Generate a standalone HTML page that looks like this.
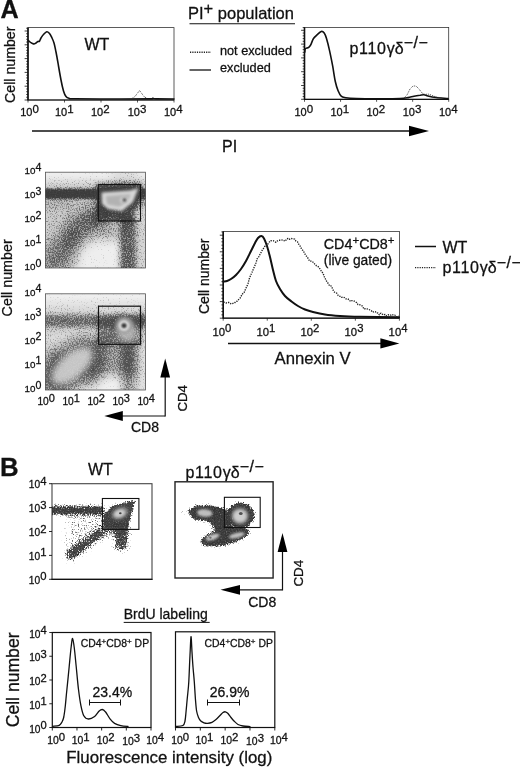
<!DOCTYPE html>
<html><head><meta charset="utf-8"><title>Figure</title>
<style>
html,body{margin:0;padding:0;background:#fff;}
body{width:520px;height:769px;overflow:hidden;}
svg{display:block;font-family:"Liberation Sans", sans-serif;fill:#111;}
text{stroke:#111;stroke-width:0.28px;}
</style></head><body>
<svg width="520" height="769" viewBox="0 0 520 769">
<rect x="0" y="0" width="520" height="769" fill="#fff" stroke="none"/>
<text x="0.4" y="17.9" font-size="25.2" font-weight="bold" text-anchor="start" >A</text>
<rect x="28" y="27.6" width="146" height="72.4" fill="none" stroke="#333" stroke-width="0.8"/>
<line x1="28" y1="27.6" x2="28" y2="100" stroke="#111" stroke-width="1.6" />
<line x1="27.5" y1="100" x2="174" y2="100" stroke="#111" stroke-width="1.2" />
<line x1="24.6" y1="100.0" x2="28" y2="100.0" stroke="#111" stroke-width="0.8" />
<line x1="26.2" y1="97.24" x2="28" y2="97.24" stroke="#111" stroke-width="0.8" />
<line x1="26.2" y1="94.48" x2="28" y2="94.48" stroke="#111" stroke-width="0.8" />
<line x1="26.2" y1="91.72" x2="28" y2="91.72" stroke="#111" stroke-width="0.8" />
<line x1="26.2" y1="88.96" x2="28" y2="88.96" stroke="#111" stroke-width="0.8" />
<line x1="24.6" y1="86.2" x2="28" y2="86.2" stroke="#111" stroke-width="0.8" />
<line x1="26.2" y1="83.44" x2="28" y2="83.44" stroke="#111" stroke-width="0.8" />
<line x1="26.2" y1="80.68" x2="28" y2="80.68" stroke="#111" stroke-width="0.8" />
<line x1="26.2" y1="77.92" x2="28" y2="77.92" stroke="#111" stroke-width="0.8" />
<line x1="26.2" y1="75.16" x2="28" y2="75.16" stroke="#111" stroke-width="0.8" />
<line x1="24.6" y1="72.4" x2="28" y2="72.4" stroke="#111" stroke-width="0.8" />
<line x1="26.2" y1="69.64" x2="28" y2="69.64" stroke="#111" stroke-width="0.8" />
<line x1="26.2" y1="66.88" x2="28" y2="66.88" stroke="#111" stroke-width="0.8" />
<line x1="26.2" y1="64.12" x2="28" y2="64.12" stroke="#111" stroke-width="0.8" />
<line x1="26.2" y1="61.36" x2="28" y2="61.36" stroke="#111" stroke-width="0.8" />
<line x1="24.6" y1="58.6" x2="28" y2="58.6" stroke="#111" stroke-width="0.8" />
<line x1="26.2" y1="55.839999999999996" x2="28" y2="55.839999999999996" stroke="#111" stroke-width="0.8" />
<line x1="26.2" y1="53.08" x2="28" y2="53.08" stroke="#111" stroke-width="0.8" />
<line x1="26.2" y1="50.32" x2="28" y2="50.32" stroke="#111" stroke-width="0.8" />
<line x1="26.2" y1="47.56" x2="28" y2="47.56" stroke="#111" stroke-width="0.8" />
<line x1="24.6" y1="44.8" x2="28" y2="44.8" stroke="#111" stroke-width="0.8" />
<line x1="26.2" y1="42.04" x2="28" y2="42.04" stroke="#111" stroke-width="0.8" />
<line x1="26.2" y1="39.279999999999994" x2="28" y2="39.279999999999994" stroke="#111" stroke-width="0.8" />
<line x1="26.2" y1="36.519999999999996" x2="28" y2="36.519999999999996" stroke="#111" stroke-width="0.8" />
<line x1="26.2" y1="33.75999999999999" x2="28" y2="33.75999999999999" stroke="#111" stroke-width="0.8" />
<line x1="24.6" y1="31.0" x2="28" y2="31.0" stroke="#111" stroke-width="0.8" />
<line x1="26.2" y1="28.239999999999995" x2="28" y2="28.239999999999995" stroke="#111" stroke-width="0.8" />
<line x1="28.0" y1="100" x2="28.0" y2="102.5" stroke="#111" stroke-width="0.7" />
<line x1="64.5" y1="100" x2="64.5" y2="102.5" stroke="#111" stroke-width="0.7" />
<line x1="101.0" y1="100" x2="101.0" y2="102.5" stroke="#111" stroke-width="0.7" />
<line x1="137.5" y1="100" x2="137.5" y2="102.5" stroke="#111" stroke-width="0.7" />
<line x1="174.0" y1="100" x2="174.0" y2="102.5" stroke="#111" stroke-width="0.7" />
<text transform="translate(15.3 103) rotate(-90)" font-size="14.2">Cell number</text>
<text x="84.5" y="50" font-size="16" font-weight="normal" text-anchor="start" >WT</text>
<text x="20.2" y="116.4" font-size="11">10<tspan dy="-3.5" font-size="11.5">0</tspan></text>
<text x="55" y="116.4" font-size="11">10<tspan dy="-3.5" font-size="11.5">1</tspan></text>
<text x="91" y="116.4" font-size="11">10<tspan dy="-3.5" font-size="11.5">2</tspan></text>
<text x="127.7" y="116.4" font-size="11">10<tspan dy="-3.5" font-size="11.5">3</tspan></text>
<text x="164" y="116.4" font-size="11">10<tspan dy="-3.5" font-size="11.5">4</tspan></text>
<path d="M28.3 40.5 C28.6 40.8 29.4 41.5 30.0 42.0 C30.6 42.5 31.3 42.9 32.0 43.2 C32.7 43.5 33.3 44.0 34.0 44.0 C34.7 44.0 35.3 43.4 36.0 43.0 C36.7 42.6 37.4 41.8 38.0 41.5 C38.6 41.2 39.0 41.8 39.5 41.2 C40.0 40.6 40.3 39.1 41.0 38.0 C41.7 36.9 42.5 35.5 43.5 34.5 C44.5 33.5 45.8 31.9 46.8 31.7 C47.8 31.5 48.6 32.5 49.5 33.5 C50.4 34.5 51.2 36.4 52.0 38.0 C52.8 39.6 53.3 40.7 54.0 43.0 C54.7 45.3 55.2 48.2 56.0 52.0 C56.8 55.8 57.7 61.3 58.5 66.0 C59.3 70.7 60.2 75.8 61.0 80.0 C61.8 84.2 62.7 88.2 63.5 91.0 C64.3 93.8 65.1 95.3 66.0 96.5 C66.9 97.7 67.5 97.9 69.0 98.3 C70.5 98.7 66.5 98.7 75.0 98.8 C83.5 98.9 107.5 99.0 120.0 99.0 C132.5 99.0 144.5 99.0 150.0 98.9 C155.5 98.8 152.0 98.2 153.0 98.2 C154.0 98.2 152.5 98.8 156.0 98.9 C159.5 99.0 171.0 99.0 174.0 99.0" fill="none" stroke="#111" stroke-width="1.6" stroke-linejoin="round" stroke-linecap="round" />
<path d="M132.0 98.5 L135.0 96.5 L138.0 92.5 L139.5 90.5 L141.0 92.5 L144.0 96.5 L147.0 98.5" fill="none" stroke="#333" stroke-width="0.9" stroke-linejoin="round" stroke-dasharray="1 1"/>
<text x="188" y="19" font-size="16.5">PI<tspan dy="-5">+</tspan><tspan dy="5"> population</tspan></text>
<line x1="189.5" y1="23.7" x2="295" y2="23.7" stroke="#111" stroke-width="1.1" />
<line x1="190" y1="52.3" x2="211" y2="52.3" stroke="#222" stroke-width="1.4" stroke-dasharray="1.2 1.1"/>
<text x="220" y="54.7" font-size="12.7" font-weight="normal" text-anchor="start" >not excluded</text>
<line x1="189.5" y1="70" x2="211" y2="70" stroke="#111" stroke-width="1.3" />
<text x="220" y="72" font-size="12.7" font-weight="normal" text-anchor="start" >excluded</text>
<rect x="304.5" y="27.5" width="144.2" height="71.8" fill="none" stroke="#333" stroke-width="0.8"/>
<line x1="304.5" y1="27.5" x2="304.5" y2="99.3" stroke="#111" stroke-width="1.6" />
<line x1="304.0" y1="99.3" x2="448.7" y2="99.3" stroke="#111" stroke-width="1.2" />
<line x1="301.1" y1="99.3" x2="304.5" y2="99.3" stroke="#111" stroke-width="0.8" />
<line x1="302.7" y1="96.53999999999999" x2="304.5" y2="96.53999999999999" stroke="#111" stroke-width="0.8" />
<line x1="302.7" y1="93.78" x2="304.5" y2="93.78" stroke="#111" stroke-width="0.8" />
<line x1="302.7" y1="91.02" x2="304.5" y2="91.02" stroke="#111" stroke-width="0.8" />
<line x1="302.7" y1="88.25999999999999" x2="304.5" y2="88.25999999999999" stroke="#111" stroke-width="0.8" />
<line x1="301.1" y1="85.5" x2="304.5" y2="85.5" stroke="#111" stroke-width="0.8" />
<line x1="302.7" y1="82.74" x2="304.5" y2="82.74" stroke="#111" stroke-width="0.8" />
<line x1="302.7" y1="79.97999999999999" x2="304.5" y2="79.97999999999999" stroke="#111" stroke-width="0.8" />
<line x1="302.7" y1="77.22" x2="304.5" y2="77.22" stroke="#111" stroke-width="0.8" />
<line x1="302.7" y1="74.46" x2="304.5" y2="74.46" stroke="#111" stroke-width="0.8" />
<line x1="301.1" y1="71.69999999999999" x2="304.5" y2="71.69999999999999" stroke="#111" stroke-width="0.8" />
<line x1="302.7" y1="68.94" x2="304.5" y2="68.94" stroke="#111" stroke-width="0.8" />
<line x1="302.7" y1="66.17999999999999" x2="304.5" y2="66.17999999999999" stroke="#111" stroke-width="0.8" />
<line x1="302.7" y1="63.419999999999995" x2="304.5" y2="63.419999999999995" stroke="#111" stroke-width="0.8" />
<line x1="302.7" y1="60.66" x2="304.5" y2="60.66" stroke="#111" stroke-width="0.8" />
<line x1="301.1" y1="57.9" x2="304.5" y2="57.9" stroke="#111" stroke-width="0.8" />
<line x1="302.7" y1="55.13999999999999" x2="304.5" y2="55.13999999999999" stroke="#111" stroke-width="0.8" />
<line x1="302.7" y1="52.379999999999995" x2="304.5" y2="52.379999999999995" stroke="#111" stroke-width="0.8" />
<line x1="302.7" y1="49.62" x2="304.5" y2="49.62" stroke="#111" stroke-width="0.8" />
<line x1="302.7" y1="46.86" x2="304.5" y2="46.86" stroke="#111" stroke-width="0.8" />
<line x1="301.1" y1="44.099999999999994" x2="304.5" y2="44.099999999999994" stroke="#111" stroke-width="0.8" />
<line x1="302.7" y1="41.339999999999996" x2="304.5" y2="41.339999999999996" stroke="#111" stroke-width="0.8" />
<line x1="302.7" y1="38.57999999999999" x2="304.5" y2="38.57999999999999" stroke="#111" stroke-width="0.8" />
<line x1="302.7" y1="35.81999999999999" x2="304.5" y2="35.81999999999999" stroke="#111" stroke-width="0.8" />
<line x1="302.7" y1="33.05999999999999" x2="304.5" y2="33.05999999999999" stroke="#111" stroke-width="0.8" />
<line x1="301.1" y1="30.299999999999997" x2="304.5" y2="30.299999999999997" stroke="#111" stroke-width="0.8" />
<line x1="302.7" y1="27.539999999999992" x2="304.5" y2="27.539999999999992" stroke="#111" stroke-width="0.8" />
<line x1="304.5" y1="99.3" x2="304.5" y2="101.8" stroke="#111" stroke-width="0.7" />
<line x1="340.55" y1="99.3" x2="340.55" y2="101.8" stroke="#111" stroke-width="0.7" />
<line x1="376.6" y1="99.3" x2="376.6" y2="101.8" stroke="#111" stroke-width="0.7" />
<line x1="412.65" y1="99.3" x2="412.65" y2="101.8" stroke="#111" stroke-width="0.7" />
<line x1="448.7" y1="99.3" x2="448.7" y2="101.8" stroke="#111" stroke-width="0.7" />
<text x="349.5" y="53.5" font-size="16"><tspan letter-spacing="0.7">p110</tspan>γδ<tspan dy="-5.4" font-size="16.0" letter-spacing="0.6">−/−</tspan></text>
<text x="294.5" y="116.4" font-size="11">10<tspan dy="-3.5" font-size="11.5">0</tspan></text>
<text x="330.5" y="116.4" font-size="11">10<tspan dy="-3.5" font-size="11.5">1</tspan></text>
<text x="366.5" y="116.4" font-size="11">10<tspan dy="-3.5" font-size="11.5">2</tspan></text>
<text x="402.7" y="116.4" font-size="11">10<tspan dy="-3.5" font-size="11.5">3</tspan></text>
<text x="439" y="116.4" font-size="11">10<tspan dy="-3.5" font-size="11.5">4</tspan></text>
<path d="M304.8 52.0 C304.9 51.5 304.8 49.5 305.3 48.8 C305.8 48.1 307.2 48.1 308.0 47.7 C308.8 47.3 309.3 46.9 309.8 46.2 C310.3 45.6 310.6 45.1 311.2 43.8 C311.8 42.5 312.5 40.0 313.5 38.5 C314.5 37.0 316.0 35.8 317.3 34.6 C318.6 33.4 320.1 31.8 321.2 31.5 C322.3 31.2 323.3 31.8 324.2 33.0 C325.1 34.2 325.6 35.5 326.5 38.5 C327.4 41.5 328.6 46.2 329.6 50.8 C330.6 55.4 331.8 61.1 332.7 66.2 C333.6 71.3 334.4 77.4 335.3 81.5 C336.2 85.6 337.1 88.3 338.1 90.8 C339.1 93.2 339.9 95.0 341.2 96.2 C342.5 97.4 343.2 97.3 345.8 97.7 C348.4 98.1 350.8 98.3 356.5 98.5 C362.2 98.7 372.8 98.7 380.0 98.7 C387.2 98.7 395.3 98.7 400.0 98.5 C404.7 98.3 405.7 98.0 408.0 97.6 C410.3 97.2 412.0 96.6 414.0 96.2 C416.0 95.8 418.3 95.5 420.0 95.3 C421.7 95.0 422.7 94.6 424.0 94.7 C425.3 94.8 426.0 95.5 428.0 96.0 C430.0 96.5 432.7 97.1 436.0 97.5 C439.3 97.9 446.0 98.3 448.0 98.5" fill="none" stroke="#111" stroke-width="1.6" stroke-linejoin="round" stroke-linecap="round" />
<path d="M404.0 98.0 L407.0 95.0 L410.0 89.0 L413.0 86.0 L416.0 86.0 L419.0 89.0 L422.0 93.0 L425.0 94.5 L428.0 94.0 L431.0 95.0 L436.0 97.0 L442.0 98.0" fill="none" stroke="#333" stroke-width="0.9" stroke-linejoin="round" stroke-dasharray="1 1"/>
<line x1="32" y1="131" x2="411" y2="131" stroke="#111" stroke-width="1.5" />
<polygon points="429,131 409,125.7 409,136.3" fill="#000"/>
<text x="222" y="151.5" font-size="16" font-weight="normal" text-anchor="start" >PI</text>
<rect x="223.2" y="231.5" width="176.2" height="86.69999999999999" fill="none" stroke="#333" stroke-width="0.8"/>
<line x1="223.2" y1="231.5" x2="223.2" y2="318.2" stroke="#111" stroke-width="1.6" />
<line x1="222.7" y1="318.2" x2="399.4" y2="318.2" stroke="#111" stroke-width="1.2" />
<line x1="219.79999999999998" y1="318.2" x2="223.2" y2="318.2" stroke="#111" stroke-width="0.8" />
<line x1="221.39999999999998" y1="314.88" x2="223.2" y2="314.88" stroke="#111" stroke-width="0.8" />
<line x1="221.39999999999998" y1="311.56" x2="223.2" y2="311.56" stroke="#111" stroke-width="0.8" />
<line x1="221.39999999999998" y1="308.24" x2="223.2" y2="308.24" stroke="#111" stroke-width="0.8" />
<line x1="221.39999999999998" y1="304.91999999999996" x2="223.2" y2="304.91999999999996" stroke="#111" stroke-width="0.8" />
<line x1="219.79999999999998" y1="301.59999999999997" x2="223.2" y2="301.59999999999997" stroke="#111" stroke-width="0.8" />
<line x1="221.39999999999998" y1="298.28" x2="223.2" y2="298.28" stroke="#111" stroke-width="0.8" />
<line x1="221.39999999999998" y1="294.96" x2="223.2" y2="294.96" stroke="#111" stroke-width="0.8" />
<line x1="221.39999999999998" y1="291.64" x2="223.2" y2="291.64" stroke="#111" stroke-width="0.8" />
<line x1="221.39999999999998" y1="288.32" x2="223.2" y2="288.32" stroke="#111" stroke-width="0.8" />
<line x1="219.79999999999998" y1="285.0" x2="223.2" y2="285.0" stroke="#111" stroke-width="0.8" />
<line x1="221.39999999999998" y1="281.68" x2="223.2" y2="281.68" stroke="#111" stroke-width="0.8" />
<line x1="221.39999999999998" y1="278.36" x2="223.2" y2="278.36" stroke="#111" stroke-width="0.8" />
<line x1="221.39999999999998" y1="275.03999999999996" x2="223.2" y2="275.03999999999996" stroke="#111" stroke-width="0.8" />
<line x1="221.39999999999998" y1="271.71999999999997" x2="223.2" y2="271.71999999999997" stroke="#111" stroke-width="0.8" />
<line x1="219.79999999999998" y1="268.4" x2="223.2" y2="268.4" stroke="#111" stroke-width="0.8" />
<line x1="221.39999999999998" y1="265.08" x2="223.2" y2="265.08" stroke="#111" stroke-width="0.8" />
<line x1="221.39999999999998" y1="261.76" x2="223.2" y2="261.76" stroke="#111" stroke-width="0.8" />
<line x1="221.39999999999998" y1="258.44" x2="223.2" y2="258.44" stroke="#111" stroke-width="0.8" />
<line x1="221.39999999999998" y1="255.11999999999998" x2="223.2" y2="255.11999999999998" stroke="#111" stroke-width="0.8" />
<line x1="219.79999999999998" y1="251.79999999999998" x2="223.2" y2="251.79999999999998" stroke="#111" stroke-width="0.8" />
<line x1="221.39999999999998" y1="248.48" x2="223.2" y2="248.48" stroke="#111" stroke-width="0.8" />
<line x1="221.39999999999998" y1="245.15999999999997" x2="223.2" y2="245.15999999999997" stroke="#111" stroke-width="0.8" />
<line x1="221.39999999999998" y1="241.83999999999997" x2="223.2" y2="241.83999999999997" stroke="#111" stroke-width="0.8" />
<line x1="221.39999999999998" y1="238.51999999999998" x2="223.2" y2="238.51999999999998" stroke="#111" stroke-width="0.8" />
<line x1="219.79999999999998" y1="235.2" x2="223.2" y2="235.2" stroke="#111" stroke-width="0.8" />
<line x1="221.39999999999998" y1="231.88" x2="223.2" y2="231.88" stroke="#111" stroke-width="0.8" />
<line x1="223.2" y1="318.2" x2="223.2" y2="320.7" stroke="#111" stroke-width="0.7" />
<line x1="267.25" y1="318.2" x2="267.25" y2="320.7" stroke="#111" stroke-width="0.7" />
<line x1="311.29999999999995" y1="318.2" x2="311.29999999999995" y2="320.7" stroke="#111" stroke-width="0.7" />
<line x1="355.34999999999997" y1="318.2" x2="355.34999999999997" y2="320.7" stroke="#111" stroke-width="0.7" />
<line x1="399.4" y1="318.2" x2="399.4" y2="320.7" stroke="#111" stroke-width="0.7" />
<text transform="translate(208.8 314) rotate(-90)" font-size="14">Cell number</text>
<text x="212.39999999999998" y="335.6" font-size="11.3">10<tspan dy="-3.5" font-size="11.3">0</tspan></text>
<text x="256.45" y="335.6" font-size="11.3">10<tspan dy="-3.5" font-size="11.3">1</tspan></text>
<text x="300.49999999999994" y="335.6" font-size="11.3">10<tspan dy="-3.5" font-size="11.3">2</tspan></text>
<text x="344.54999999999995" y="335.6" font-size="11.3">10<tspan dy="-3.5" font-size="11.3">3</tspan></text>
<text x="388.59999999999997" y="335.6" font-size="11.3">10<tspan dy="-3.5" font-size="11.3">4</tspan></text>
<path d="M223.5 281.5 C224.1 281.4 225.8 281.4 227.0 281.0 C228.2 280.6 229.5 280.0 231.0 279.0 C232.5 278.0 234.3 276.7 236.0 275.0 C237.7 273.3 239.3 271.3 241.0 269.0 C242.7 266.7 244.3 264.0 246.0 261.0 C247.7 258.0 249.5 254.0 251.0 251.0 C252.5 248.0 253.8 245.2 255.0 243.0 C256.2 240.8 256.9 239.2 258.0 238.0 C259.1 236.8 260.4 235.9 261.4 236.0 C262.4 236.1 263.1 236.8 264.0 238.5 C264.9 240.2 266.0 242.9 267.0 246.0 C268.0 249.1 269.0 253.0 270.0 257.0 C271.0 261.0 272.0 266.0 273.0 270.0 C274.0 274.0 274.8 277.8 276.0 281.0 C277.2 284.2 278.5 286.5 280.0 289.0 C281.5 291.5 283.1 293.9 285.0 296.0 C286.9 298.1 289.3 299.8 291.5 301.5 C293.7 303.2 295.8 304.7 298.0 306.0 C300.2 307.3 302.5 308.5 305.0 309.5 C307.5 310.5 309.7 311.2 313.0 312.0 C316.3 312.8 320.5 313.8 325.0 314.5 C329.5 315.2 334.2 315.6 340.0 316.0 C345.8 316.4 350.2 316.6 360.0 316.8 C369.8 317.0 392.5 317.2 399.0 317.3" fill="none" stroke="#111" stroke-width="2.0" stroke-linejoin="round" stroke-linecap="round" />
<path d="M223.5 302.4 L224.8 302.2 L226.1 303.0 L227.4 302.5 L228.7 302.4 L230.0 303.3 L231.5 304.0 L233.0 303.4 L234.5 303.0 L236.0 301.4 L237.3 301.1 L238.7 299.5 L240.0 298.3 L241.3 295.8 L242.7 293.7 L244.0 292.9 L245.3 289.7 L246.7 286.7 L248.0 283.7 L249.3 278.7 L250.7 275.2 L252.0 272.3 L253.3 269.2 L254.7 266.1 L256.0 262.8 L257.3 258.4 L258.7 256.9 L260.0 254.4 L261.3 252.0 L262.7 249.3 L264.0 247.9 L265.3 245.4 L266.7 245.6 L268.0 243.8 L269.3 242.1 L270.7 240.6 L272.0 240.9 L273.3 240.7 L274.7 241.8 L276.0 242.3 L277.3 241.0 L278.7 240.3 L280.0 240.2 L281.3 240.2 L282.7 239.9 L284.0 240.6 L285.3 241.2 L286.7 239.0 L288.0 238.5 L289.3 239.4 L290.7 238.4 L292.0 238.6 L293.3 238.9 L294.7 239.2 L296.0 241.1 L297.5 241.8 L299.0 244.8 L300.3 246.3 L301.7 249.3 L303.0 250.5 L304.3 252.7 L305.7 255.5 L307.0 256.6 L308.3 258.8 L309.7 261.2 L311.0 261.1 L312.3 261.7 L313.7 262.7 L315.0 264.6 L316.3 265.6 L317.7 266.1 L319.0 267.6 L320.3 269.3 L321.7 271.9 L323.0 273.0 L324.3 276.8 L325.7 279.5 L327.0 282.0 L328.3 283.5 L329.7 286.0 L331.0 285.9 L332.3 288.2 L333.7 291.4 L335.0 292.6 L336.7 293.1 L338.3 295.6 L340.0 296.3 L341.5 297.4 L343.0 297.0 L344.5 297.6 L346.0 298.9 L347.5 298.7 L349.0 299.7 L350.5 301.5 L352.0 300.6 L353.5 300.7 L355.0 301.5 L356.5 302.5 L358.0 304.6 L359.5 304.7 L361.0 305.5 L362.5 306.1 L364.0 309.1 L365.5 308.6 L367.0 308.9 L368.5 309.3 L370.0 310.0 L371.3 310.7 L372.7 312.2 L374.0 311.5 L375.3 311.7 L376.7 313.1 L378.0 312.9 L379.4 314.8 L380.9 313.1 L382.3 314.2 L383.7 315.0 L385.1 314.4 L386.6 315.9 L388.0 315.0 L389.4 314.6 L390.8 315.1 L392.1 314.4 L393.5 315.3 L394.9 315.1 L396.2 316.6 L397.6 316.6 L399.0 316.0" fill="none" stroke="#222" stroke-width="1.35" stroke-linejoin="round" stroke-dasharray="1.3 1.1"/>
<text x="323.8" y="248.6" font-size="14.3">CD4<tspan dy="-4.5" font-size="11.5">+</tspan><tspan dy="4.5">CD8</tspan><tspan dy="-4.5" font-size="11.5">+</tspan></text>
<text x="323.8" y="264.7" font-size="13.8" font-weight="normal" text-anchor="start" >(live gated)</text>
<line x1="415" y1="246.5" x2="436" y2="246.5" stroke="#111" stroke-width="1.5" />
<text x="442.5" y="253" font-size="16" font-weight="normal" text-anchor="start" >WT</text>
<line x1="415" y1="267.6" x2="436" y2="267.6" stroke="#222" stroke-width="1.4" stroke-dasharray="1.2 1.1"/>
<text x="442.5" y="273" font-size="16"><tspan letter-spacing="0.7">p110</tspan>γδ<tspan dy="-5.4" font-size="16.0" letter-spacing="0.6">−/−</tspan></text>
<line x1="228" y1="343.4" x2="382.4" y2="343.4" stroke="#111" stroke-width="1.5" />
<polygon points="399.4,343.4 380.4,338.2 380.4,348.59999999999997" fill="#000"/>
<text x="274.6" y="364.4" font-size="16.7" font-weight="normal" text-anchor="start" >Annexin V</text>
<text transform="translate(12.2 316.4) rotate(-90)" font-size="14.3">Cell number</text>
<rect x="45.5" y="172.2" width="100.0" height="95.80000000000001" fill="none" stroke="#555" stroke-width="0.8"/>
<rect x="45.5" y="293.8" width="100.0" height="96.19999999999999" fill="none" stroke="#555" stroke-width="0.8"/>
<text x="24.6" y="270.0" font-size="9.8">10<tspan dy="-3.5" font-size="10.6">0</tspan></text>
<text x="24.6" y="246.05" font-size="9.8">10<tspan dy="-3.5" font-size="10.6">1</tspan></text>
<text x="24.6" y="222.1" font-size="9.8">10<tspan dy="-3.5" font-size="10.6">2</tspan></text>
<text x="24.6" y="198.14999999999998" font-size="9.8">10<tspan dy="-3.5" font-size="10.6">3</tspan></text>
<text x="24.6" y="174.2" font-size="9.8">10<tspan dy="-3.5" font-size="10.6">4</tspan></text>
<text x="24.6" y="392.0" font-size="9.8">10<tspan dy="-3.5" font-size="10.6">0</tspan></text>
<text x="24.6" y="367.95" font-size="9.8">10<tspan dy="-3.5" font-size="10.6">1</tspan></text>
<text x="24.6" y="343.9" font-size="9.8">10<tspan dy="-3.5" font-size="10.6">2</tspan></text>
<text x="24.6" y="319.85" font-size="9.8">10<tspan dy="-3.5" font-size="10.6">3</tspan></text>
<text x="24.6" y="295.8" font-size="9.8">10<tspan dy="-3.5" font-size="10.6">4</tspan></text>
<text x="37.4" y="405.2" font-size="10.2">10<tspan dy="-3.5" font-size="11">0</tspan></text>
<text x="62.4" y="405.2" font-size="10.2">10<tspan dy="-3.5" font-size="11">1</tspan></text>
<text x="87.4" y="405.2" font-size="10.2">10<tspan dy="-3.5" font-size="11">2</tspan></text>
<text x="112.4" y="405.2" font-size="10.2">10<tspan dy="-3.5" font-size="11">3</tspan></text>
<text x="137.4" y="405.2" font-size="10.2">10<tspan dy="-3.5" font-size="11">4</tspan></text>
<line x1="165.2" y1="416" x2="120.8" y2="416" stroke="#111" stroke-width="1.2" />
<polygon points="104.3,416 122.8,411.1 122.8,420.9" fill="#000"/>
<line x1="165.2" y1="416.6" x2="165.2" y2="375.5" stroke="#111" stroke-width="1.2" />
<polygon points="165.2,358.5 160.29999999999998,377.5 170.1,377.5" fill="#000"/>
<text x="131" y="432" font-size="14" font-weight="normal" text-anchor="start" >CD8</text>
<text transform="translate(186.7 411.6) rotate(-90)" font-size="13.3">CD4</text>
<text x="0" y="476" font-size="25.8" font-weight="bold" text-anchor="start" >B</text>
<text x="88" y="475.4" font-size="16" font-weight="normal" text-anchor="start" >WT</text>
<text x="185.5" y="477.7" font-size="16"><tspan letter-spacing="0.7">p110</tspan>γδ<tspan dy="-5.4" font-size="16.0" letter-spacing="0.6">−/−</tspan></text>
<rect x="52" y="483.7" width="100" height="95.59999999999997" fill="none" stroke="#444" stroke-width="1.1"/>
<line x1="51.5" y1="579.3" x2="152.5" y2="579.3" stroke="#111" stroke-width="1.3" />
<rect x="175" y="481.8" width="98.10000000000002" height="96.19999999999999" fill="none" stroke="#222" stroke-width="1.4"/>
<text x="28.8" y="583.8" font-size="10.2">10<tspan dy="-3.5" font-size="11.3">0</tspan></text>
<line x1="49" y1="579.3" x2="52" y2="579.3" stroke="#111" stroke-width="0.9" />
<text x="28.8" y="559.9" font-size="10.2">10<tspan dy="-3.5" font-size="11.3">1</tspan></text>
<line x1="49" y1="555.4" x2="52" y2="555.4" stroke="#111" stroke-width="0.9" />
<text x="28.8" y="536.0" font-size="10.2">10<tspan dy="-3.5" font-size="11.3">2</tspan></text>
<line x1="49" y1="531.5" x2="52" y2="531.5" stroke="#111" stroke-width="0.9" />
<text x="28.8" y="512.0999999999999" font-size="10.2">10<tspan dy="-3.5" font-size="11.3">3</tspan></text>
<line x1="49" y1="507.59999999999997" x2="52" y2="507.59999999999997" stroke="#111" stroke-width="0.9" />
<text x="28.8" y="488.2" font-size="10.2">10<tspan dy="-3.5" font-size="11.3">4</tspan></text>
<line x1="49" y1="483.7" x2="52" y2="483.7" stroke="#111" stroke-width="0.9" />
<line x1="282.5" y1="590.4" x2="282.5" y2="550" stroke="#111" stroke-width="1.2" />
<polygon points="282.5,533 277.6,552 287.4,552" fill="#000"/>
<line x1="282.5" y1="589.8" x2="238.0" y2="589.8" stroke="#111" stroke-width="1.2" />
<polygon points="220.5,589.8 240.0,584.9 240.0,594.6999999999999" fill="#000"/>
<text x="248.2" y="606.9" font-size="14" font-weight="normal" text-anchor="start" >CD8</text>
<text transform="translate(303.3 586.6) rotate(-90)" font-size="13.4">CD4</text>
<text x="123.7" y="619.3" font-size="14" font-weight="normal" text-anchor="start" >BrdU labeling</text>
<line x1="123.7" y1="622.4" x2="209.7" y2="622.4" stroke="#111" stroke-width="1.0" />
<rect x="52.3" y="632.5" width="98.7" height="95.0" fill="none" stroke="#111" stroke-width="1.2"/>
<rect x="175.5" y="631.8" width="99.30000000000001" height="95.70000000000005" fill="none" stroke="#111" stroke-width="1.2"/>
<text transform="translate(19 727.3) rotate(-90)" font-size="17.6">Cell number</text>
<text x="29.2" y="732.6" font-size="10.2">10<tspan dy="-3.5" font-size="11.2">0</tspan></text>
<line x1="49.3" y1="727.5" x2="52.3" y2="727.5" stroke="#111" stroke-width="0.9" />
<text x="29.2" y="708.85" font-size="10.2">10<tspan dy="-3.5" font-size="11.2">1</tspan></text>
<line x1="49.3" y1="703.75" x2="52.3" y2="703.75" stroke="#111" stroke-width="0.9" />
<text x="29.2" y="685.1" font-size="10.2">10<tspan dy="-3.5" font-size="11.2">2</tspan></text>
<line x1="49.3" y1="680.0" x2="52.3" y2="680.0" stroke="#111" stroke-width="0.9" />
<text x="29.2" y="661.35" font-size="10.2">10<tspan dy="-3.5" font-size="11.2">3</tspan></text>
<line x1="49.3" y1="656.25" x2="52.3" y2="656.25" stroke="#111" stroke-width="0.9" />
<text x="29.2" y="637.6" font-size="10.2">10<tspan dy="-3.5" font-size="11.2">4</tspan></text>
<line x1="49.3" y1="632.5" x2="52.3" y2="632.5" stroke="#111" stroke-width="0.9" />
<text x="47.3" y="744.0" font-size="10.4">10<tspan dy="-3.5" font-size="11.4">0</tspan></text>
<text x="71.8" y="744.0" font-size="10.4">10<tspan dy="-3.5" font-size="11.4">1</tspan></text>
<text x="96.8" y="744.0" font-size="10.4">10<tspan dy="-3.5" font-size="11.4">2</tspan></text>
<text x="122.3" y="745.2" font-size="10.4">10<tspan dy="-3.5" font-size="11.4">3</tspan></text>
<text x="146.2" y="744.0" font-size="10.4">10<tspan dy="-3.5" font-size="11.4">4</tspan></text>
<text x="171.2" y="744.0" font-size="10.4">10<tspan dy="-3.5" font-size="11.4">0</tspan></text>
<text x="195.4" y="744.0" font-size="10.4">10<tspan dy="-3.5" font-size="11.4">1</tspan></text>
<text x="220.4" y="744.0" font-size="10.4">10<tspan dy="-3.5" font-size="11.4">2</tspan></text>
<text x="246.1" y="745.2" font-size="10.4">10<tspan dy="-3.5" font-size="11.4">3</tspan></text>
<text x="270" y="744.0" font-size="10.4">10<tspan dy="-3.5" font-size="11.4">4</tspan></text>
<text x="80.8" y="647.4" font-size="10.4">CD4<tspan dy="-3.6" font-size="8">+</tspan><tspan dy="3.6">CD8</tspan><tspan dy="-3.6" font-size="8">+</tspan><tspan dy="3.6"> DP</tspan></text>
<text x="204.6" y="647.2" font-size="10.4">CD4<tspan dy="-3.6" font-size="8">+</tspan><tspan dy="3.6">CD8</tspan><tspan dy="-3.6" font-size="8">+</tspan><tspan dy="3.6"> DP</tspan></text>
<text x="92.5" y="697" font-size="14" font-weight="normal" text-anchor="start" >23.4%</text>
<text x="209.7" y="697" font-size="14" font-weight="normal" text-anchor="start" >26.9%</text>
<line x1="89.5" y1="702.5" x2="120.5" y2="702.5" stroke="#111" stroke-width="1.0" />
<line x1="89.5" y1="699.5" x2="89.5" y2="705.5" stroke="#111" stroke-width="1.0" />
<line x1="120.5" y1="699.5" x2="120.5" y2="705.5" stroke="#111" stroke-width="1.0" />
<line x1="207.5" y1="702.5" x2="239.5" y2="702.5" stroke="#111" stroke-width="1.0" />
<line x1="207.5" y1="699.5" x2="207.5" y2="705.5" stroke="#111" stroke-width="1.0" />
<line x1="239.5" y1="699.5" x2="239.5" y2="705.5" stroke="#111" stroke-width="1.0" />
<path d="M52.5 726.3 C53.6 726.1 57.6 726.0 59.2 725.3 C60.8 724.6 61.2 723.4 62.0 722.0 C62.8 720.6 63.2 719.7 63.8 717.0 C64.3 714.3 64.8 710.6 65.3 706.0 C65.8 701.4 66.2 696.1 66.9 689.5 C67.6 682.9 68.5 673.7 69.2 666.5 C69.9 659.3 70.6 651.2 71.2 646.5 C71.8 641.8 72.1 638.2 72.6 638.5 C73.1 638.8 73.7 643.3 74.3 648.0 C74.9 652.7 75.5 659.6 76.2 666.5 C76.9 673.4 77.7 683.1 78.5 689.5 C79.3 695.9 79.9 700.6 80.8 705.0 C81.7 709.4 82.5 713.4 83.8 715.7 C85.1 718.0 86.7 718.9 88.5 719.0 C90.3 719.1 92.8 717.8 94.6 716.5 C96.4 715.2 97.9 712.2 99.2 711.0 C100.5 709.8 101.3 709.4 102.3 709.5 C103.3 709.6 104.1 710.2 105.4 711.8 C106.7 713.3 108.5 716.9 110.0 718.8 C111.5 720.7 112.8 722.2 114.6 723.4 C116.4 724.5 118.6 725.2 120.8 725.7 C123.0 726.2 126.8 726.4 128.0 726.5" fill="none" stroke="#111" stroke-width="1.3" stroke-linejoin="round" stroke-linecap="round" />
<path d="M175.6 726.5 C176.8 726.3 181.3 726.4 182.9 725.5 C184.5 724.6 184.5 723.4 185.0 721.0 C185.5 718.6 185.7 715.0 186.1 711.0 C186.5 707.0 186.9 701.9 187.4 697.0 C187.9 692.1 188.4 688.7 188.8 681.7 C189.2 674.7 189.6 662.5 190.0 655.0 C190.4 647.5 190.7 637.1 191.0 636.6 C191.3 636.1 191.7 646.9 192.0 652.0 C192.3 657.1 192.6 662.0 193.0 667.0 C193.4 672.0 193.9 676.2 194.3 681.7 C194.7 687.2 195.1 695.1 195.5 700.0 C195.9 704.9 196.1 708.1 196.6 711.0 C197.1 713.9 197.8 715.8 198.5 717.5 C199.2 719.2 199.9 720.1 200.8 721.0 C201.7 721.9 202.9 722.4 204.0 722.8 C205.1 723.2 206.2 723.4 207.5 723.3 C208.8 723.2 210.6 722.9 212.0 722.3 C213.4 721.7 214.7 720.6 216.0 719.5 C217.3 718.4 218.8 716.7 220.0 715.5 C221.2 714.3 222.1 713.1 223.0 712.5 C223.9 711.9 224.6 711.6 225.4 711.8 C226.2 712.0 227.1 712.5 228.0 713.5 C228.9 714.5 230.0 716.2 231.0 717.5 C232.0 718.8 232.8 719.8 234.0 721.0 C235.2 722.2 236.5 723.7 238.0 724.5 C239.5 725.3 241.0 725.6 243.0 726.0 C245.0 726.4 248.8 726.5 250.0 726.6" fill="none" stroke="#111" stroke-width="1.3" stroke-linejoin="round" stroke-linecap="round" />
<text x="66.3" y="763.4" font-size="16.85" font-weight="normal" text-anchor="start" >Fluorescence intensity (log)</text>
<line x1="52.3" y1="727.5" x2="52.3" y2="730.5" stroke="#111" stroke-width="0.9" />
<line x1="76.975" y1="727.5" x2="76.975" y2="730.5" stroke="#111" stroke-width="0.9" />
<line x1="101.65" y1="727.5" x2="101.65" y2="730.5" stroke="#111" stroke-width="0.9" />
<line x1="126.325" y1="727.5" x2="126.325" y2="730.5" stroke="#111" stroke-width="0.9" />
<line x1="151.0" y1="727.5" x2="151.0" y2="730.5" stroke="#111" stroke-width="0.9" />
<line x1="175.5" y1="727.5" x2="175.5" y2="730.5" stroke="#111" stroke-width="0.9" />
<line x1="200.325" y1="727.5" x2="200.325" y2="730.5" stroke="#111" stroke-width="0.9" />
<line x1="225.15" y1="727.5" x2="225.15" y2="730.5" stroke="#111" stroke-width="0.9" />
<line x1="249.97500000000002" y1="727.5" x2="249.97500000000002" y2="730.5" stroke="#111" stroke-width="0.9" />
<line x1="274.8" y1="727.5" x2="274.8" y2="730.5" stroke="#111" stroke-width="0.9" />
<defs><clipPath id="clip1"><rect x="45.5" y="172.2" width="100.0" height="95.80000000000001"/></clipPath>
<filter id="dith1" filterUnits="userSpaceOnUse" x="43.5" y="170.2" width="104.0" height="99.80000000000001" color-interpolation-filters="sRGB">
<feTurbulence type="fractalNoise" baseFrequency="0.83 0.71" numOctaves="2" seed="3" result="n"/>
<feColorMatrix in="n" type="matrix" values="0 0 0 0 0  0 0 0 0 0  0 0 0 0 0  0 0 0 1.2 -0.300" result="na"/>
<feComposite in="SourceGraphic" in2="na" operator="arithmetic" k1="0" k2="1" k3="-1" k4="0" result="df"/>
<feComponentTransfer in="df" result="t"><feFuncA type="linear" slope="3" intercept="0"/></feComponentTransfer>
<feComposite in="t" in2="SourceGraphic" operator="arithmetic" k1="0" k2="0.4" k3="0.82" k4="0"/>
<feGaussianBlur stdDeviation="0.55"/>
</filter></defs>
<g clip-path="url(#clip1)"><g filter="url(#dith1)" opacity="0.85">
<rect x="40" y="168" width="110" height="104" fill="#1a1a1a" fill-opacity="0.1" filter="url(#b1)"/>
<rect x="40" y="181" width="110" height="26" fill="#1a1a1a" fill-opacity="0.22" filter="url(#b3)"/>
<rect x="112" y="168" width="26" height="18" fill="#1a1a1a" fill-opacity="0.1" filter="url(#b4)"/>
<rect x="40" y="200" width="36" height="72" fill="#1a1a1a" fill-opacity="0.24" filter="url(#b5)"/>
<ellipse cx="85" cy="225" rx="25" ry="15" fill="#1a1a1a" fill-opacity="0.48" transform="rotate(-45 85 225)" filter="url(#b6)"/>
<ellipse cx="90" cy="219" rx="10" ry="8" fill="#1a1a1a" fill-opacity="0.25" transform="rotate(-45 90 219)" filter="url(#b4)"/>
<ellipse cx="60" cy="254" rx="24" ry="14" fill="#1a1a1a" fill-opacity="0.36" transform="rotate(-48 60 254)" filter="url(#b6)"/>
<rect x="98" y="221" width="24" height="19" fill="#1a1a1a" fill-opacity="0.3" filter="url(#b4)"/>
<rect x="119.5" y="216" width="17.0" height="56" fill="#1a1a1a" fill-opacity="0.54" filter="url(#b2_5)"/>
<rect x="137" y="196" width="13" height="76" fill="#1a1a1a" fill-opacity="0.16" filter="url(#b3)"/>
<rect x="38" y="189" width="112" height="9.5" fill="#1a1a1a" fill-opacity="0.8" filter="url(#b1_5)"/>
<polygon points="96,184 142,183 139,204 131,222 96,222" fill="#1a1a1a" fill-opacity="0.64" filter="url(#b2_5)"/>
</g>
<rect x="38" y="189.5" width="61" height="8.5" fill="#333" fill-opacity="0.35" filter="url(#b1_3)"/>
<polygon points="97,187 141,185.5 137,202 129,215 110,216 98,211" fill="#333" fill-opacity="0.35" filter="url(#b2)"/>
<polygon points="101.5,192.5 130,190.5 138.5,188 133,202 122,211 108,209 102,204" fill="#dadada" fill-opacity="1" filter="url(#b1_6)"/>
<polygon points="105.5,196 131,194 127.5,202 119,207 107,204.5" fill="#ababab" fill-opacity="0.85" filter="url(#b1_8)"/>
<ellipse cx="124" cy="200" rx="4.5" ry="3.6" fill="#d0d0d0" fill-opacity="0.7" transform="rotate(0 124 200)" filter="url(#b1_2)"/>
<ellipse cx="124.5" cy="200" rx="1.7" ry="1.7" fill="#333" fill-opacity="0.9" transform="rotate(0 124.5 200)" filter="url(#b0_9)"/>
</g>
<rect x="98.3" y="184.6" width="42.2" height="36.400000000000006" fill="none" stroke="#111" stroke-width="1.1"/>
<defs><clipPath id="clip2"><rect x="45.5" y="293.8" width="100.0" height="96.19999999999999"/></clipPath>
<filter id="dith2" filterUnits="userSpaceOnUse" x="43.5" y="291.8" width="104.0" height="100.19999999999999" color-interpolation-filters="sRGB">
<feTurbulence type="fractalNoise" baseFrequency="0.83 0.71" numOctaves="2" seed="11" result="n"/>
<feColorMatrix in="n" type="matrix" values="0 0 0 0 0  0 0 0 0 0  0 0 0 0 0  0 0 0 1.2 -0.300" result="na"/>
<feComposite in="SourceGraphic" in2="na" operator="arithmetic" k1="0" k2="1" k3="-1" k4="0" result="df"/>
<feComponentTransfer in="df" result="t"><feFuncA type="linear" slope="3" intercept="0"/></feComponentTransfer>
<feComposite in="t" in2="SourceGraphic" operator="arithmetic" k1="0" k2="0.4" k3="0.82" k4="0"/>
<feGaussianBlur stdDeviation="0.55"/>
</filter></defs>
<g clip-path="url(#clip2)"><g filter="url(#dith2)" opacity="0.8">
<rect x="40" y="290" width="110" height="104" fill="#1a1a1a" fill-opacity="0.09" filter="url(#b1)"/>
<rect x="40" y="303" width="110" height="29" fill="#1a1a1a" fill-opacity="0.18" filter="url(#b4)"/>
<rect x="40" y="314.5" width="110" height="12.5" fill="#1a1a1a" fill-opacity="0.45" filter="url(#b2)"/>
<rect x="40" y="327" width="56" height="18" fill="#1a1a1a" fill-opacity="0.12" filter="url(#b3)"/>
<ellipse cx="73" cy="366" rx="36" ry="23" fill="#1a1a1a" fill-opacity="0.5" transform="rotate(-40 73 366)" filter="url(#b5)"/>
<rect x="40" y="345" width="22" height="49" fill="#1a1a1a" fill-opacity="0.3" filter="url(#b4)"/>
<ellipse cx="93" cy="374" rx="9" ry="14" fill="#1a1a1a" fill-opacity="0.3" transform="rotate(0 93 374)" filter="url(#b4)"/>
<rect x="94" y="343" width="43" height="33" fill="#1a1a1a" fill-opacity="0.42" filter="url(#b5)"/>
<rect x="121" y="340" width="15.5" height="54" fill="#1a1a1a" fill-opacity="0.42" filter="url(#b3)"/>
<rect x="137" y="310" width="13" height="84" fill="#1a1a1a" fill-opacity="0.1" filter="url(#b3)"/>
<polygon points="97,318 142,316 142,346 97,346" fill="#1a1a1a" fill-opacity="0.38" filter="url(#b2_5)"/>
<rect x="97" y="330" width="21" height="16" fill="#1a1a1a" fill-opacity="0.25" filter="url(#b3)"/>
<ellipse cx="124" cy="326" rx="11" ry="11" fill="#1a1a1a" fill-opacity="0.3" transform="rotate(0 124 326)" filter="url(#b3)"/>
</g>
<ellipse cx="72" cy="366" rx="25" ry="12" fill="#cdcdcd" fill-opacity="0.92" transform="rotate(-40 72 366)" filter="url(#b3_2)"/>
<ellipse cx="126" cy="330" rx="9.5" ry="12.5" fill="#bcbcbc" fill-opacity="0.85" transform="rotate(-18 126 330)" filter="url(#b2_4)"/>
<ellipse cx="124" cy="325.8" rx="7.6" ry="7.6" fill="#9c9c9c" fill-opacity="0.9" transform="rotate(0 124 325.8)" filter="url(#b1_5)"/>
<ellipse cx="124" cy="325.6" rx="5.2" ry="5.2" fill="#ececec" fill-opacity="1" transform="rotate(0 124 325.6)" filter="url(#b1_1)"/>
<ellipse cx="124" cy="325.6" rx="2.7" ry="2.7" fill="#333" fill-opacity="1" transform="rotate(0 124 325.6)" filter="url(#b0_8)"/>
</g>
<rect x="98.5" y="306.2" width="42.0" height="38.10000000000002" fill="none" stroke="#111" stroke-width="1.2"/>
<defs><clipPath id="clip3"><rect x="52" y="483.7" width="100" height="95.59999999999997"/></clipPath>
<filter id="dith3" filterUnits="userSpaceOnUse" x="50" y="481.7" width="104" height="99.59999999999997" color-interpolation-filters="sRGB">
<feTurbulence type="fractalNoise" baseFrequency="0.83 0.71" numOctaves="2" seed="21" result="n"/>
<feColorMatrix in="n" type="matrix" values="0 0 0 0 0  0 0 0 0 0  0 0 0 0 0  0 0 0 1.2 -0.300" result="na"/>
<feComposite in="SourceGraphic" in2="na" operator="arithmetic" k1="0" k2="1" k3="-1" k4="0" result="df"/>
<feComponentTransfer in="df" result="t"><feFuncA type="linear" slope="3" intercept="0"/></feComponentTransfer>
<feComposite in="t" in2="SourceGraphic" operator="arithmetic" k1="0" k2="1" k3="0" k4="0"/>
<feGaussianBlur stdDeviation="0.5"/>
</filter></defs>
<g clip-path="url(#clip3)"><g filter="url(#dith3)" opacity="0.88">
<rect x="46" y="506" width="58" height="8.5" fill="#1a1a1a" fill-opacity="0.9" filter="url(#b2_2)"/>
<polygon points="67,512 104,514 106,532 66,558" fill="#1a1a1a" fill-opacity="0.27" filter="url(#b3)"/>
<polygon points="64.5,553 100,527.5 106,534.5 70,562" fill="#1a1a1a" fill-opacity="0.7" filter="url(#b2_6)"/>
<ellipse cx="76" cy="551" rx="9" ry="3.5" fill="#1a1a1a" fill-opacity="0.45" transform="rotate(-36 76 551)" filter="url(#b2)"/>
<polygon points="103,516 112,506 135.5,500 131,516 127,530 104,529" fill="#1a1a1a" fill-opacity="1" filter="url(#b1_6)"/>
<rect x="115" y="527" width="12.5" height="23" fill="#1a1a1a" fill-opacity="0.75" filter="url(#b2_5)"/>
<rect x="100" y="527" width="30" height="10" fill="#1a1a1a" fill-opacity="0.4" filter="url(#b2_5)"/>
</g>
<ellipse cx="120" cy="513.3" rx="8.8" ry="5.6" fill="#8c8c8c" fill-opacity="0.95" transform="rotate(-22 120 513.3)" filter="url(#b1_4)"/>
<ellipse cx="119.6" cy="513.4" rx="5.6" ry="3.6" fill="#d0d0d0" fill-opacity="0.95" transform="rotate(-20 119.6 513.4)" filter="url(#b1_1)"/>
<ellipse cx="120.3" cy="513.3" rx="1.3" ry="1.0" fill="#333" fill-opacity="0.9" transform="rotate(0 120.3 513.3)" filter="url(#b0_6)"/>
</g>
<rect x="102.4" y="498.5" width="36.5" height="30.899999999999977" fill="none" stroke="#111" stroke-width="1.1"/>
<defs><clipPath id="clip4"><rect x="175" y="481.8" width="98.10000000000002" height="96.19999999999999"/></clipPath>
<filter id="dith4" filterUnits="userSpaceOnUse" x="173" y="479.8" width="102.10000000000002" height="100.19999999999999" color-interpolation-filters="sRGB">
<feTurbulence type="fractalNoise" baseFrequency="0.83 0.71" numOctaves="2" seed="31" result="n"/>
<feColorMatrix in="n" type="matrix" values="0 0 0 0 0  0 0 0 0 0  0 0 0 0 0  0 0 0 1.2 -0.300" result="na"/>
<feComposite in="SourceGraphic" in2="na" operator="arithmetic" k1="0" k2="1" k3="-1" k4="0" result="df"/>
<feComponentTransfer in="df" result="t"><feFuncA type="linear" slope="3" intercept="0"/></feComponentTransfer>
<feComposite in="t" in2="SourceGraphic" operator="arithmetic" k1="0" k2="1" k3="0" k4="0"/>
<feGaussianBlur stdDeviation="0.5"/>
</filter></defs>
<g clip-path="url(#clip4)"><g filter="url(#dith4)" opacity="0.9">
<ellipse cx="197" cy="512" rx="16" ry="3" fill="#1a1a1a" fill-opacity="0.35" transform="rotate(0 197 512)" filter="url(#b2_5)"/>
<polygon points="188,511 196,505.5 213,505.5 225,510 225,528 207,521.5 193,519" fill="#1a1a1a" fill-opacity="1" filter="url(#b1_8)"/>
<ellipse cx="240.5" cy="515.3" rx="14" ry="12.5" fill="#1a1a1a" fill-opacity="1" transform="rotate(0 240.5 515.3)" filter="url(#b1_8)"/>
<ellipse cx="222" cy="522" rx="10" ry="13" fill="#1a1a1a" fill-opacity="1" transform="rotate(0 222 522)" filter="url(#b2)"/>
<ellipse cx="225" cy="536.8" rx="25" ry="8" fill="#1a1a1a" fill-opacity="1" transform="rotate(-13 225 536.8)" filter="url(#b1_8)"/>
</g>
<ellipse cx="204.8" cy="513" rx="7.8" ry="3.8" fill="#c4c4c4" fill-opacity="0.95" transform="rotate(5 204.8 513)" filter="url(#b1_2)"/>
<ellipse cx="240" cy="516" rx="8.4" ry="8" fill="#a6a6a6" fill-opacity="0.95" transform="rotate(0 240 516)" filter="url(#b1_5)"/>
<ellipse cx="240" cy="516" rx="6" ry="5.6" fill="#d2d2d2" fill-opacity="0.9" transform="rotate(0 240 516)" filter="url(#b1_3)"/>
<ellipse cx="240.8" cy="513.6" rx="1.9" ry="1.5" fill="#444" fill-opacity="0.9" transform="rotate(0 240.8 513.6)" filter="url(#b0_7)"/>
<ellipse cx="212.6" cy="537.2" rx="7" ry="2.7" fill="#cfcfcf" fill-opacity="0.95" transform="rotate(-20 212.6 537.2)" filter="url(#b1_1)"/>
<ellipse cx="210.4" cy="537.7" rx="1.2" ry="1.0" fill="#555" fill-opacity="0.8" transform="rotate(0 210.4 537.7)" filter="url(#b0_6)"/>
<ellipse cx="236.8" cy="535.4" rx="8" ry="2.6" fill="#c4c4c4" fill-opacity="0.95" transform="rotate(-14 236.8 535.4)" filter="url(#b1_1)"/>
</g>
<rect x="224.4" y="497.3" width="35.79999999999998" height="30.19999999999999" fill="none" stroke="#111" stroke-width="1.1"/>
<defs><filter id="b0_6" x="-50%" y="-50%" width="200%" height="200%"><feGaussianBlur stdDeviation="0.6"/></filter><filter id="b0_7" x="-50%" y="-50%" width="200%" height="200%"><feGaussianBlur stdDeviation="0.7"/></filter><filter id="b0_8" x="-50%" y="-50%" width="200%" height="200%"><feGaussianBlur stdDeviation="0.8"/></filter><filter id="b0_9" x="-50%" y="-50%" width="200%" height="200%"><feGaussianBlur stdDeviation="0.9"/></filter><filter id="b1" x="-50%" y="-50%" width="200%" height="200%"><feGaussianBlur stdDeviation="1"/></filter><filter id="b1_1" x="-50%" y="-50%" width="200%" height="200%"><feGaussianBlur stdDeviation="1.1"/></filter><filter id="b1_2" x="-50%" y="-50%" width="200%" height="200%"><feGaussianBlur stdDeviation="1.2"/></filter><filter id="b1_3" x="-50%" y="-50%" width="200%" height="200%"><feGaussianBlur stdDeviation="1.3"/></filter><filter id="b1_4" x="-50%" y="-50%" width="200%" height="200%"><feGaussianBlur stdDeviation="1.4"/></filter><filter id="b1_5" x="-50%" y="-50%" width="200%" height="200%"><feGaussianBlur stdDeviation="1.5"/></filter><filter id="b1_6" x="-50%" y="-50%" width="200%" height="200%"><feGaussianBlur stdDeviation="1.6"/></filter><filter id="b1_8" x="-50%" y="-50%" width="200%" height="200%"><feGaussianBlur stdDeviation="1.8"/></filter><filter id="b2" x="-50%" y="-50%" width="200%" height="200%"><feGaussianBlur stdDeviation="2"/></filter><filter id="b2_2" x="-50%" y="-50%" width="200%" height="200%"><feGaussianBlur stdDeviation="2.2"/></filter><filter id="b2_4" x="-50%" y="-50%" width="200%" height="200%"><feGaussianBlur stdDeviation="2.4"/></filter><filter id="b2_5" x="-50%" y="-50%" width="200%" height="200%"><feGaussianBlur stdDeviation="2.5"/></filter><filter id="b2_6" x="-50%" y="-50%" width="200%" height="200%"><feGaussianBlur stdDeviation="2.6"/></filter><filter id="b3" x="-50%" y="-50%" width="200%" height="200%"><feGaussianBlur stdDeviation="3"/></filter><filter id="b3_2" x="-50%" y="-50%" width="200%" height="200%"><feGaussianBlur stdDeviation="3.2"/></filter><filter id="b4" x="-50%" y="-50%" width="200%" height="200%"><feGaussianBlur stdDeviation="4"/></filter><filter id="b5" x="-50%" y="-50%" width="200%" height="200%"><feGaussianBlur stdDeviation="5"/></filter><filter id="b6" x="-50%" y="-50%" width="200%" height="200%"><feGaussianBlur stdDeviation="6"/></filter></defs>
</svg>
</body></html>
